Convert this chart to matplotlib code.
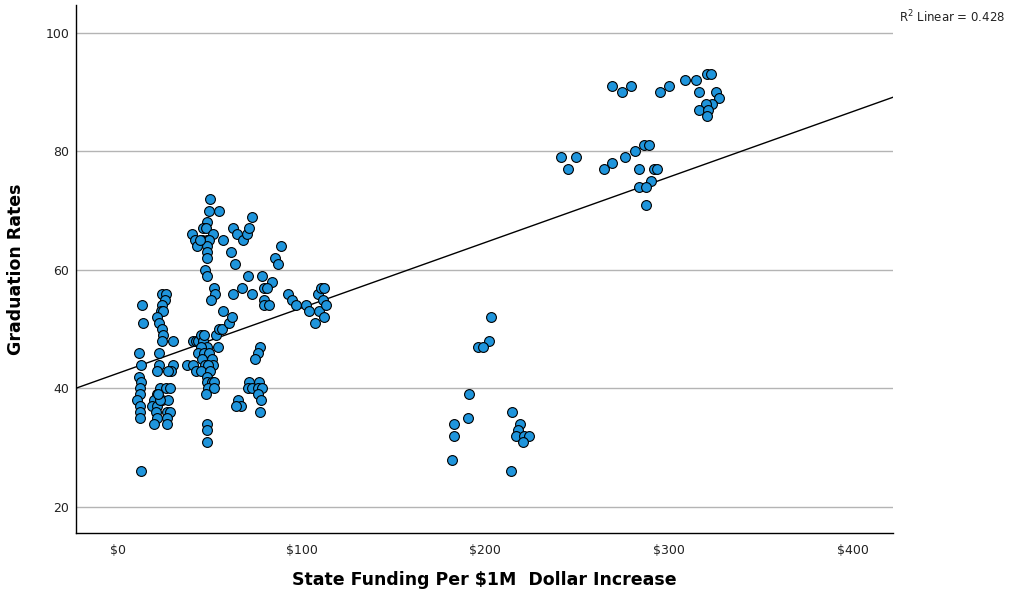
import numpy as np
import matplotlib
matplotlib.use("Agg")
import matplotlib.pyplot as plt

# state funding per $1M increase (x) and graduation rate (y)
funding = [
    12.5, 11.4, 12.5, 11.4, 12.5, 11.9, 11.9, 10.3, 11.9, 11.9, 11.9, 13.1, 13.6,
    24.0, 26.1, 25.6, 24.0, 23.4, 24.5, 21.2, 22.3, 24.0, 24.5, 24.0, 29.9,
    22.3, 22.3, 21.2, 29.9, 28.9, 27.2, 37.6, 40.8,
    22.9, 26.1, 28.3, 21.2, 19.6, 18.5, 21.2, 24.0, 27.2, 26.7, 28.3, 20.7,
    21.2, 26.7, 19.6, 26.7, 22.9, 21.8,
    40.8, 42.5, 43.5, 45.2, 46.3, 46.8, 48.4, 45.2, 43.5, 46.8, 49.5, 45.7,
    51.2, 51.7, 47.4, 49.0, 42.5, 45.2, 50.1, 48.4, 48.4, 51.2, 52.3, 49.0,
    52.3, 47.9, 48.4, 48.4, 48.4, 54.4, 53.3, 55.0, 56.6, 60.4, 62.1, 57.2,
    65.3, 67.0, 64.2,
    50.1, 49.5, 55.0, 48.4, 46.3, 47.9, 40.3, 51.7, 41.9, 45.7, 48.4, 49.5,
    43.0, 48.4, 48.4, 48.4, 57.2, 61.5, 63.7, 62.6, 64.8, 68.0, 70.2, 71.3,
    72.9, 47.4, 48.4, 52.3, 52.8, 50.6, 62.6, 67.5, 44.6,
    88.7, 85.5, 87.1, 70.8, 78.4, 83.8, 72.9, 79.5, 81.1, 79.5, 79.5, 82.2,
    92.5, 94.7, 96.9, 102.3, 104.0, 107.2, 109.4, 108.9, 110.5, 112.1, 111.6,
    113.2, 112.1,
    77.3, 76.2, 74.6,
    71.3, 76.8, 70.8, 72.9, 76.2, 78.4, 76.2, 77.8, 77.3,
    203.0, 202.0, 196.0, 198.7, 191.1, 190.5, 182.9, 182.9, 181.8,
    214.5, 218.8, 217.7, 216.7, 221.0, 223.7, 220.5, 213.9,
    268.9, 274.4, 279.3, 295.0, 299.9, 308.7, 314.7, 316.3, 320.6, 322.8,
    325.6, 327.2, 323.4, 320.1, 316.3, 321.2, 320.6,
    241.2, 249.3, 245.0, 264.6, 268.9, 276.0, 281.4, 286.3, 289.0, 283.6,
    291.8, 293.4, 290.2, 283.6, 287.4, 287.4,
]
grad_rate = [
    26, 46, 44, 42, 41, 40, 39, 38, 37, 36, 35, 54, 51,
    56, 56, 55, 54, 53, 53, 52, 51, 50, 49, 48, 48,
    46, 44, 43, 44, 43, 43, 44, 44,
    40, 40, 40, 39, 38, 37, 37, 38, 38, 36, 36, 36,
    35, 35, 34, 34, 38, 39,
    48, 48, 48, 49, 48, 49, 47, 47, 46, 46, 46, 45,
    45, 44, 44, 44, 43, 43, 43, 42, 41, 41, 41, 40,
    40, 39, 34, 33, 31, 47, 49, 50, 50, 51, 52, 53,
    38, 37, 37,
    72, 70, 70, 68, 67, 67, 66, 66, 65, 65, 65, 65,
    64, 64, 63, 62, 65, 63, 61, 67, 66, 65, 66, 67,
    69, 60, 59, 57, 56, 55, 56, 57, 65,
    64, 62, 61, 59, 59, 58, 56, 57, 57, 55, 54, 54,
    56, 55, 54, 54, 53, 51, 53, 56, 57, 57, 55,
    54, 52,
    47, 46, 45,
    41, 41, 40, 40, 40, 40, 39, 38, 36,
    52, 48, 47, 47, 39, 35, 34, 32, 28,
    36, 34, 33, 32, 32, 32, 31, 26,
    91, 90, 91, 90, 91, 92, 92, 90, 93, 93,
    90, 89, 88, 88, 87, 87, 86,
    79, 79, 77, 77, 78, 79, 80, 81, 81, 77,
    77, 77, 75, 74, 74, 71,
]

x_ticks = [0, 100, 200, 300, 400]
x_tick_labels = ["$0", "$100", "$200", "$300", "$400"]
y_ticks = [20, 40, 60, 80, 100]

x = np.array(funding)
y = np.array(grad_rate)

fig = plt.figure(figsize=(10.12, 5.94), dpi=100)
ax = fig.add_axes([0.0751, 0.1027, 0.8073, 0.8889])

ax.set_xlim(-23, 422)
ax.set_ylim(15.6, 104.7)

for t in y_ticks:
    ax.axhline(t, color="#b4b4b4", lw=1.0, zorder=0)

ax.scatter(x, y, s=50, c="#1f95dc", edgecolors="black", linewidths=0.8, zorder=3)

# linear fit line
slope, intercept = np.polyfit(x, y, 1)
xs = np.array(ax.get_xlim())
ax.plot(xs, intercept + slope * xs, color="black", lw=1.0, zorder=2)

ax.set_xticks(x_ticks)
ax.set_xticklabels(x_tick_labels)
ax.set_yticks(y_ticks)
ax.tick_params(length=0, labelsize=9, colors="#222222")
ax.tick_params(axis="x", pad=8)
ax.tick_params(axis="y", pad=5)

for s in ["top", "right"]:
    ax.spines[s].set_visible(False)
for s in ["left", "bottom"]:
    ax.spines[s].set_linewidth(1.0)

ax.set_xlabel("State Funding Per $1M  Dollar Increase", fontsize=12.5,
              fontweight="bold")
ax.xaxis.set_label_coords(0.5, -0.072)
ax.set_ylabel("Graduation Rates", fontsize=12.5, fontweight="bold")
ax.yaxis.set_label_coords(-0.062, 0.5)

fig.text(0.993, 0.971, r"R$^2$ Linear = 0.428", fontsize=8.5, color="#222222",
         ha="right", va="center")

fig.savefig("out.png", dpi=100)
